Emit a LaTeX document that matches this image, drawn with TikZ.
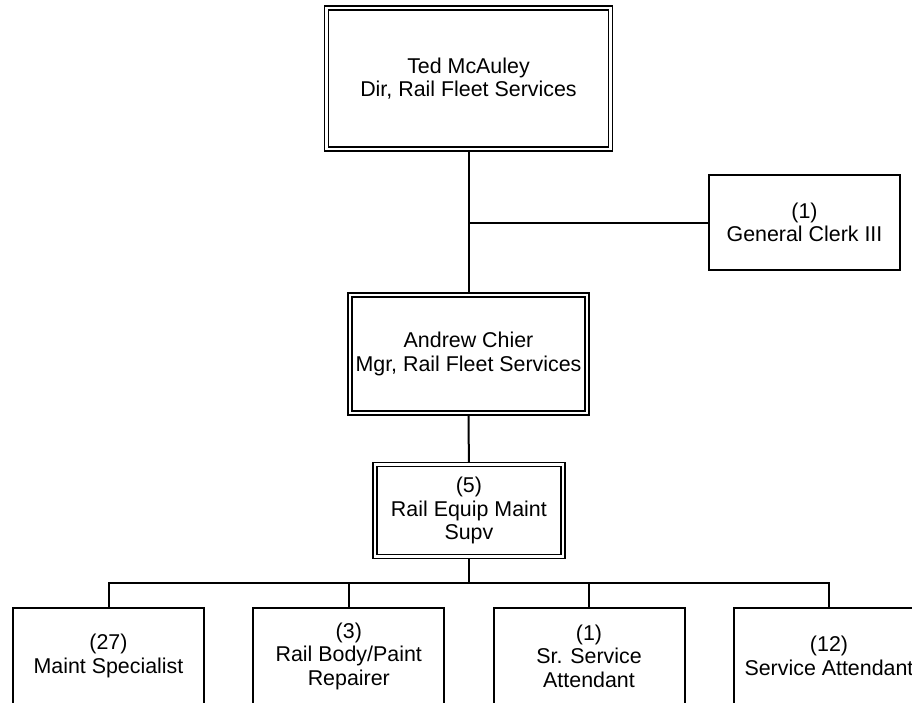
\documentclass[tikz,border=0pt]{standalone}
\usepackage{fontspec}
\setmainfont{Liberation Sans}
\usetikzlibrary{positioning, backgrounds}

\begin{document}
\begin{tikzpicture}[x=1pt, y=-1pt,
    post/.style={draw, line width=2pt, minimum width=191pt, minimum height=95pt,
      inner sep=0pt, align=center, font=\fontsize{21.4}{23.5}\selectfont},
    mainpost/.style={post, double, line width=1.3pt, double distance=2.7pt},
    link/.style={line width=2pt}]
          % Page frame
          \useasboundingbox (0,0) rectangle (912,702);

          % Director and clerk
          \node[mainpost, minimum width=284pt, minimum height=141pt] (ted) at (468.5,78.4) {Ted McAuley\\Dir, Rail Fleet Services};
          \node[post] (clerk) at (804.5,222.5) {(1)\\General Clerk III};

          % Manager and supervisors
          \node[mainpost, minimum width=237pt, minimum height=118pt] (andrew) at (468.5,354) {Andrew Chier\\Mgr, Rail Fleet Services};
          \node[mainpost, minimum width=188pt, minimum height=92pt] (supv) at (468.9,510.6) {(5)\\Rail Equip Maint\\Supv};

          % Staff row
          \node[post, minimum height=97pt] (maint) at (108.5,656) {(27)\\Maint Specialist};
          \node[post, minimum height=97pt] (body) at (348.8,656) {(3)\\Rail Body/Paint\\Repairer};
          \node[post, minimum height=97pt] (sr) at (589,656) {(1)\\Sr. Service\\Attendant};
          \node[post, minimum height=97pt] (attend) at (829,656) {(12)\\Service Attendant};

          % Reporting lines
          \begin{scope}[on background layer]
            \draw[link] (ted.south) -- (andrew.north);
            \draw[link] (clerk.west) -- (clerk.west -| ted.south);
            \draw[link] (andrew.south) -- (supv.north);
            \coordinate (bus) at (468.9,583);
            \foreach \n in {maint,body,sr,attend}
              \draw[link] (supv.south) -- (bus) -| (\n.north);
          \end{scope}
        \end{tikzpicture}
\end{document}
